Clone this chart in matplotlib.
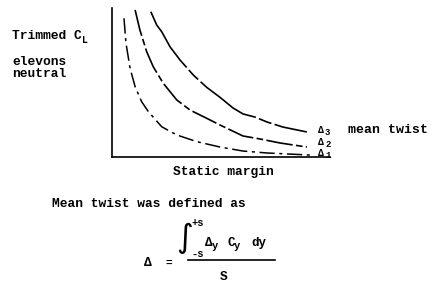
import matplotlib
matplotlib.use("Agg")
import matplotlib.pyplot as plt

# Curve data (static margin, trimmed CL), arbitrary units
d3_x = [1.78, 2.05, 2.28, 2.66, 3.12, 3.73, 4.34, 4.95, 5.55, 6.01, 6.56, 7.11, 7.84, 8.94]
d3_y = [9.75, 8.86, 8.41, 7.40, 6.51, 5.50, 4.68, 4.01, 3.29, 2.89, 2.68, 2.35, 2.01, 1.68]
d2_x = [1.06, 1.28, 1.59, 1.89, 2.35, 2.97, 3.58, 4.34, 4.95, 6.01, 6.79, 7.71, 8.94]
d2_y = [9.87, 8.52, 7.07, 6.06, 4.95, 3.83, 3.15, 2.60, 2.15, 1.41, 1.21, 0.94, 0.67]
d1_x = [0.55, 0.64, 0.83, 1.06, 1.36, 1.67, 2.28, 2.97, 3.89, 4.95, 6.01, 7.11, 9.08]
d1_y = [9.31, 7.65, 5.95, 4.72, 3.71, 3.04, 2.03, 1.48, 1.03, 0.67, 0.40, 0.27, 0.13]
curve_labels = ["Δ3", "Δ2", "Δ1"]

W, H = 441, 295
fig = plt.figure(figsize=(W / 100, H / 100), dpi=100)
fig.patch.set_facecolor("white")

def fx(px):
    return px / W

def fy(py):
    return 1 - py / H

ax_l, ax_r, ax_t, ax_b = 112, 330, 8, 157
ax = fig.add_axes([fx(ax_l), fy(ax_b), (ax_r - ax_l) / W, (ax_b - ax_t) / H])
ax.set_xlim(0, 10)
ax.set_ylim(0, 10)
ax.set_xticks([])
ax.set_yticks([])
for s in ["top", "right"]:
    ax.spines[s].set_visible(False)
for s in ["left", "bottom"]:
    ax.spines[s].set_linewidth(1.2)
    ax.spines[s].set_color("black")
ax.patch.set_alpha(0)

ax.plot(d3_x, d3_y, color="black", lw=1.2, ls=(0, (40, 2, 8, 2)))
ax.plot(d2_x, d2_y, color="black", lw=1.2, ls=(0, (16, 2, 4, 2)))
ax.plot(d1_x, d1_y, color="black", lw=1.1, ls=(0, (10, 3, 2, 3)))

mono = dict(family="Liberation Mono", weight="bold", color="black")

# curve labels
lab_y = [130, 142, 153]
for lab, py in zip(curve_labels, lab_y):
    fig.text(fx(318), fy(py), lab[0], fontsize=7, va="center", ha="left", **mono)
    fig.text(fx(325), fy(py + 2), lab[1], fontsize=6.5, va="center", ha="left", **mono)
fig.text(fx(348), fy(130), "mean twist", fontsize=9.5, va="center", ha="left", **mono)

# axis titles
fig.text(fx(12), fy(36), "Trimmed C", fontsize=9.3, va="center", ha="left", **mono)
fig.text(fx(82), fy(40), "L", fontsize=7, va="center", ha="left", **mono)
fig.text(fx(12), fy(62), "elevons", fontsize=9.3, va="center", ha="left", **mono)
fig.text(fx(12), fy(74), "neutral", fontsize=9.3, va="center", ha="left", **mono)
fig.text(fx(173), fy(172), "Static margin", fontsize=9.3, va="center", ha="left", **mono)

# definition text
fig.text(fx(52), fy(204), "Mean twist was defined as", fontsize=9.3, va="center", ha="left", **mono)
fig.text(fx(144), fy(263), "Δ", fontsize=9.3, va="center", ha="left", **mono)
fig.text(fx(165), fy(263), "=", fontsize=8, va="center", ha="left", **mono)
fig.text(fx(184), fy(238), "∫", fontsize=23, va="center", ha="center",
         family="DejaVu Sans", color="black")
fig.text(fx(191), fy(223), "+s", fontsize=7.5, va="center", ha="left", **mono)
fig.text(fx(191), fy(254), "-s", fontsize=7.5, va="center", ha="left", **mono)
fig.text(fx(205), fy(243), "Δ", fontsize=9, va="center", ha="left", **mono)
fig.text(fx(212), fy(246), "y", fontsize=7.5, va="center", ha="left", **mono)
fig.text(fx(227), fy(243), "C", fontsize=9, va="center", ha="left", **mono)
fig.text(fx(234), fy(246), "y", fontsize=7.5, va="center", ha="left", **mono)
fig.text(fx(251), fy(243), "dy", fontsize=9, va="center", ha="left", **mono)
fig.add_artist(plt.Line2D([fx(188), fx(275)], [fy(260), fy(260)], color="black", lw=1.2))
fig.text(fx(224), fy(277), "S", fontsize=9.3, va="center", ha="center", **mono)

fig.savefig("out.png", dpi=100, facecolor="white")
